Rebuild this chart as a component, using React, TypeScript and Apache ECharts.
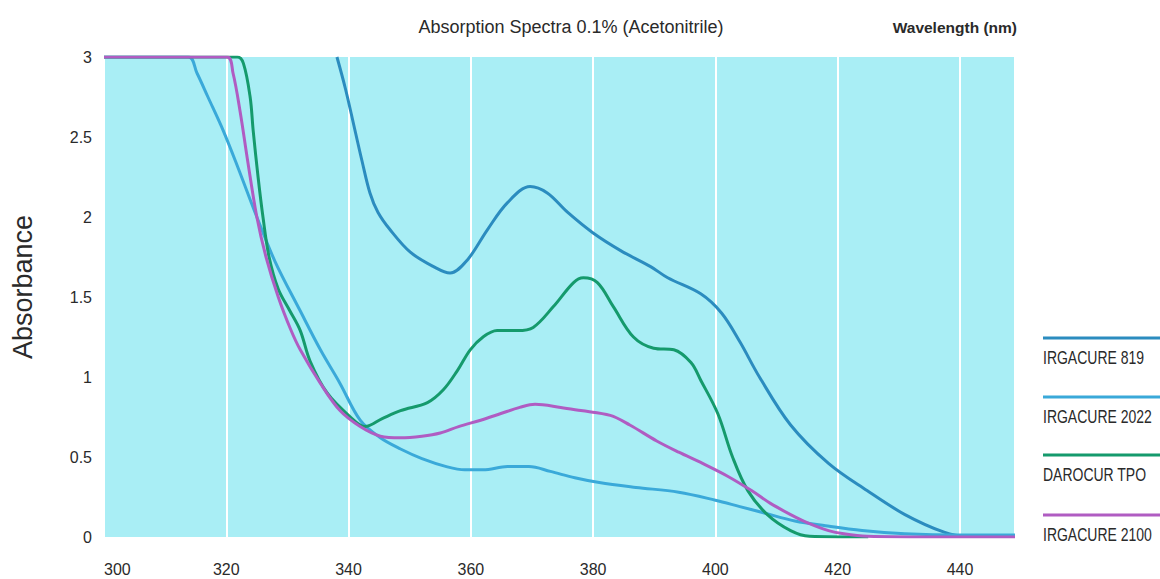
import React, { useEffect, useRef } from "react";
import * as echarts from "echarts";

const titleText = "Absorption Spectra 0.1% (Acetonitrile)";
const xAxisTitle = "Wavelength (nm)";
const yAxisTitle = "Absorbance";
const seriesNames = ["IRGACURE 819", "IRGACURE 2022", "DAROCUR TPO", "IRGACURE 2100"];
const seriesColors = ["#2b8cbf", "#3aa9d9", "#159a6c", "#b05cc2"];

const irg819Nm = [338.1, 339.5, 341, 342.2, 343.5, 344.8, 346.8, 350.1, 353.9, 356.6, 359.4, 362.7, 366, 369.7, 372.5, 375.8, 380, 384.5, 389.4, 392.2, 397.6, 401, 404, 407.2, 412.3, 418.5, 424.8, 431, 437.4, 441, 449];
const irg819Abs = [3, 2.8, 2.55, 2.35, 2.15, 2.03, 1.92, 1.78, 1.69, 1.65, 1.73, 1.92, 2.09, 2.19, 2.15, 2.03, 1.9, 1.79, 1.69, 1.62, 1.52, 1.4, 1.22, 1.0, 0.7, 0.46, 0.29, 0.14, 0.03, 0.005, 0.005];

const irg2022Nm = [300, 313.8, 315.2, 317, 319.5, 322, 325, 328, 332, 335.4, 338.6, 341.9, 345.2, 348.5, 352, 356, 359, 362, 366, 369.5, 373, 377, 381, 387, 394, 400, 404, 408, 413, 418, 424, 431, 440, 449];
const irg2022Abs = [3, 3, 2.9, 2.75, 2.54, 2.3, 2.0, 1.72, 1.42, 1.17, 0.96, 0.73, 0.62, 0.55, 0.49, 0.44, 0.42, 0.42, 0.44, 0.44, 0.41, 0.37, 0.34, 0.31, 0.28, 0.23, 0.19, 0.15, 0.1, 0.07, 0.04, 0.02, 0.012, 0.012];

const tpoNm = [300, 321.8, 322.8, 323.9, 324.4, 325.2, 326, 327, 328.5, 330.3, 332.1, 333.7, 336.5, 340.3, 342.7, 345.5, 348.5, 352.9, 355.5, 357.8, 359.9, 362, 364.3, 367.6, 370.2, 373.5, 376.8, 378.4, 380.7, 383.3, 386.6, 389.9, 393.2, 396, 397.6, 400.4, 402.8, 405.3, 408.5, 412.3, 415.4, 425];
const tpoAbs = [3, 3, 2.96, 2.75, 2.54, 2.25, 2.0, 1.75, 1.55, 1.42, 1.29, 1.1, 0.9, 0.75, 0.69, 0.74, 0.79, 0.84, 0.92, 1.04, 1.17, 1.25, 1.29, 1.29, 1.31, 1.44, 1.59, 1.62, 1.59, 1.44, 1.25, 1.18, 1.17, 1.09, 0.98, 0.77, 0.5, 0.29, 0.14, 0.04, 0.005, 0];

const irg2100Nm = [300, 320.1, 321.1, 322.3, 323.5, 325, 326.5, 328.5, 330.5, 332.1, 335.4, 338.6, 341.9, 345.2, 348.5, 352, 355, 358, 361.6, 364.8, 368, 370.5, 374.7, 378, 382.8, 386, 390.4, 394, 397.9, 402, 405.9, 409, 412.3, 415, 418.5, 421, 424.8, 437.4, 449];
const irg2100Abs = [3, 3, 2.9, 2.65, 2.35, 2.0, 1.75, 1.5, 1.3, 1.17, 0.96, 0.79, 0.69, 0.63, 0.62, 0.63, 0.65, 0.69, 0.73, 0.77, 0.81, 0.83, 0.81, 0.79, 0.76, 0.7, 0.6, 0.53, 0.46, 0.38, 0.29, 0.21, 0.14, 0.09, 0.04, 0.02, 0.005, 0, 0];

const xMin = 300;
const xMax = 449;
const xStep = 20;
const yMin = 0;
const yMax = 3;
const yStep = 0.5;

const pairs = (xs: number[], ys: number[]) => xs.map((x, i) => [x, ys[i]]);

export default function App() {
  const ref = useRef<HTMLDivElement>(null);
  useEffect(() => {
    document.body.style.margin = "0";
    if (!ref.current) return;
    const chart = echarts.init(ref.current, undefined, { renderer: "svg" });
    const allData = [
      pairs(irg819Nm, irg819Abs),
      pairs(irg2022Nm, irg2022Abs),
      pairs(tpoNm, tpoAbs),
      pairs(irg2100Nm, irg2100Abs),
    ];
    const legendYs = [338, 397, 455, 515];
    const legendGraphics: any[] = [];
    seriesNames.forEach((name, i) => {
      legendGraphics.push({
        type: "line",
        shape: { x1: 1043, y1: legendYs[i], x2: 1160, y2: legendYs[i] },
        style: { stroke: seriesColors[i], lineWidth: 3 },
      });
      legendGraphics.push({
        type: "text",
        x: 1043,
        y: legendYs[i] + 20,
        scaleY: 1.25,
        style: {
          text: name,
          font: "14px 'Liberation Sans', sans-serif",
          fill: "#2a2a2a",
          align: "left",
          verticalAlign: "middle",
        },
      });
    });
    chart.setOption({
      animation: false,
      backgroundColor: "#ffffff",
      grid: {
        left: 104,
        right: 145,
        top: 57,
        bottom: 42,
        show: true,
        backgroundColor: "#a9eef5",
        borderWidth: 0,
      },
      xAxis: {
        type: "value",
        min: xMin,
        max: xMax,
        interval: xStep,
        axisLine: { show: false },
        axisTick: { show: false },
        splitLine: { show: true, lineStyle: { color: "#ffffff", width: 2 } },
        axisLabel: {
          margin: 24,
          color: "#2a2a2a",
          fontSize: 16,
          fontFamily: "'Liberation Sans', sans-serif",
          showMaxLabel: false,
          alignMinLabel: "left",
        },
      },
      yAxis: {
        type: "value",
        min: yMin,
        max: yMax,
        interval: yStep,
        axisLine: { show: false },
        axisTick: { show: false },
        splitLine: { show: false },
        axisLabel: {
          margin: 12,
          color: "#2a2a2a",
          fontSize: 16,
          fontFamily: "'Liberation Sans', sans-serif",
        },
      },
      series: allData.map((d, i) => ({
        name: seriesNames[i],
        type: "line",
        data: d,
        showSymbol: false,
        smooth: 0.35,
        lineStyle: { color: seriesColors[i], width: 3 },
        itemStyle: { color: seriesColors[i] },
      })),
      graphic: [
        {
          type: "text",
          x: 571,
          y: 27,
          style: {
            text: titleText,
            font: "18px 'Liberation Sans', sans-serif",
            fill: "#2a2a2a",
            align: "center",
            verticalAlign: "middle",
          },
        },
        {
          type: "text",
          x: 1017,
          y: 27,
          style: {
            text: xAxisTitle,
            font: "bold 15.5px 'Liberation Sans', sans-serif",
            fill: "#2a2a2a",
            align: "right",
            verticalAlign: "middle",
          },
        },
        {
          type: "text",
          x: 23,
          y: 287,
          rotation: Math.PI / 2,
          style: {
            text: yAxisTitle,
            font: "27px 'Liberation Sans', sans-serif",
            fill: "#2a2a2a",
            align: "center",
            verticalAlign: "middle",
          },
        },
        ...legendGraphics,
      ],
    });
    return () => chart.dispose();
  }, []);
  return <div ref={ref} style={{ width: 1160, height: 579 }} />;
}
